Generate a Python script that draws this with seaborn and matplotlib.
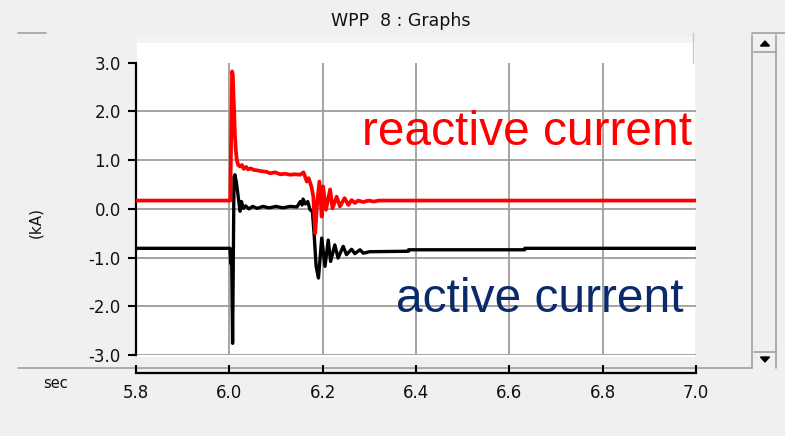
import matplotlib
matplotlib.use("Agg")
import matplotlib.pyplot as plt
import seaborn as sns
import numpy as np
import pandas as pd
from matplotlib.lines import Line2D
from matplotlib.patches import Rectangle, Polygon

# ---------------- data ----------------
t_reactive = [5.80, 6.002, 6.004, 6.006, 6.0075, 6.009, 6.010, 6.012, 6.014, 6.016,
              6.019, 6.023, 6.027, 6.031, 6.036, 6.040, 6.046, 6.052, 6.060, 6.070,
              6.080, 6.087, 6.098, 6.109, 6.120, 6.130, 6.141, 6.152,
              6.159, 6.166, 6.170, 6.176, 6.180, 6.184, 6.188, 6.193, 6.198, 6.201,
              6.207, 6.216, 6.221, 6.230, 6.237, 6.247, 6.255, 6.262, 6.269, 6.276,
              6.287, 6.298, 6.310, 6.320, 7.00]
reactive = [0.17, 0.17, 1.50, 2.82, 2.75, 2.30, 2.10, 1.50, 1.20, 1.00,
            0.90, 0.87, 0.90, 0.82, 0.86, 0.81, 0.83, 0.80, 0.79, 0.77,
            0.76, 0.73, 0.75, 0.71, 0.72, 0.70, 0.71, 0.70,
            0.75, 0.56, 0.63, 0.45, 0.25, -0.50, 0.10, 0.56, -0.16, 0.46,
            -0.02, 0.40, 0.01, 0.25, 0.05, 0.22, 0.08, 0.18, 0.12, 0.17,
            0.14, 0.17, 0.15, 0.17, 0.17]

t_active = [5.80, 6.0015, 6.003, 6.005, 6.007, 6.010, 6.012, 6.015, 6.019, 6.023,
            6.026, 6.030, 6.035, 6.042, 6.050, 6.060, 6.072, 6.085, 6.100, 6.115,
            6.130, 6.145, 6.152, 6.156, 6.158, 6.163,
            6.168, 6.173, 6.178, 6.182, 6.186, 6.191, 6.198, 6.205, 6.212, 6.217,
            6.226, 6.233, 6.244, 6.251, 6.262, 6.269, 6.280, 6.287, 6.300, 6.384,
            6.384, 6.633, 6.633, 7.00]
active = [-0.81, -0.81, -1.12, -1.00, -2.76, 0.66, 0.70, 0.55, 0.25, -0.05,
          0.15, 0.01, 0.06, 0.00, 0.05, 0.01, 0.05, 0.02, 0.05, 0.02,
          0.05, 0.04, 0.15, 0.08, 0.20, 0.10,
          0.15, -0.02, -0.05, -0.57, -1.18, -1.42, -0.60, -1.18, -0.64, -1.08,
          -0.74, -1.01, -0.77, -0.94, -0.83, -0.92, -0.84, -0.91, -0.88, -0.87,
          -0.84, -0.84, -0.81, -0.81]

y_ticks = [-3.0, -2.0, -1.0, 0.0, 1.0, 2.0, 3.0]
x_ticks = [5.8, 6.0, 6.2, 6.4, 6.6, 6.8, 7.0]
title = "WPP  8 : Graphs"
label_reactive = "reactive current"
label_active = "active current"

# ---------------- figure ----------------
sns.set_style("white")
plt.rcParams['font.family'] = ['DejaVu Sans']

W, H = 785, 436
BG = '#f0f0f0'
GRID = '#a09d98'
fig = plt.figure(figsize=(W / 100, H / 100), dpi=100, facecolor=BG)

def fx(x):
    return x / W

def fy(y):
    return 1 - y / H

# white plot panel behind axes
fig.patches.append(Rectangle((fx(137), fy(357)), fx(695) - fx(137), fy(37) - fy(357),
                             transform=fig.transFigure, facecolor='white',
                             edgecolor='none', zorder=-5))
fig.patches.append(Rectangle((fx(137), fy(43)), fx(695) - fx(137), fy(37) - fy(43),
                             transform=fig.transFigure, facecolor='#f4f4f4',
                             edgecolor='none', zorder=-4))

# frame lines of the window
def fline(x0, y0, x1, y1, color='#a0a0a0', lw=1.2):
    fig.add_artist(Line2D([fx(x0), fx(x1)], [fy(y0), fy(y1)], transform=fig.transFigure,
                          color=color, lw=lw, zorder=-3))

fline(18, 33, 46, 33)
fline(752, 33, 785, 33)
fline(18, 368, 752, 368)
fline(752, 35, 752, 368)
fline(776, 35, 776, 368)
fline(754, 52, 776, 52)
fline(754, 352, 776, 352)
fline(693, 33, 693, 63, color='#c8c8c8', lw=1.0)
# scrollbar arrows
fig.add_artist(Polygon([[fx(760.5), fy(46)], [fx(769.5), fy(46)], [fx(765), fy(41)]],
                       closed=True, transform=fig.transFigure, color='black'))
fig.add_artist(Polygon([[fx(760.5), fy(357)], [fx(769.5), fy(357)], [fx(765), fy(362)]],
                       closed=True, transform=fig.transFigure, color='black'))

fig.text(fx(401), fy(21), title, ha='center', va='center', fontsize=12.5, color='#111111')

# main axes
ax = fig.add_axes([fx(136), fy(355), fx(696) - fx(136), fy(62.7) - fy(355)])
ax.set_facecolor('none')
ax.set_zorder(2)
ax.set_xlim(5.8, 7.0)
ax.set_ylim(-3.0, 3.0)

df_r = pd.DataFrame({'t': t_reactive, 'v': reactive})
df_a = pd.DataFrame({'t': t_active, 'v': active})
sns.lineplot(data=df_r, x='t', y='v', ax=ax, color='#ff0000', linewidth=2.7,
             estimator=None, sort=False, zorder=4)
sns.lineplot(data=df_a, x='t', y='v', ax=ax, color='black', linewidth=2.4,
             estimator=None, sort=False, zorder=3)

ax.set_xlabel('')
ax.set_ylabel('')
ax.set_yticks(y_ticks)
ax.set_yticklabels([f"{v:.1f}" for v in y_ticks], fontsize=12, color='#111111')
ax.set_xticks(x_ticks[1:-1])
ax.tick_params(axis='x', which='both', bottom=False, labelbottom=False)
ax.tick_params(axis='y', direction='out', length=6, width=1.5, color='black', pad=5, left=True)

for s in ['top', 'right', 'bottom']:
    ax.spines[s].set_visible(False)
ax.spines['left'].set_color('black')
ax.spines['left'].set_linewidth(1.6)

ax.grid(True, color=GRID, linewidth=1.3, zorder=1)
ax.set_axisbelow(True)
ax.yaxis.get_gridlines()[-1].set_visible(False)

fig.text(fx(692), fy(145), label_reactive, ha='right', va='baseline', fontsize=34.5,
         color='#ff0000', family=['Liberation Sans', 'DejaVu Sans'], zorder=5)
fig.text(fx(684), fy(312), label_active, ha='right', va='baseline', fontsize=34.5,
         color='#0a2a6b', family=['Liberation Sans', 'DejaVu Sans'], zorder=5)

fig.text(fx(36), fy(222), '(kA)', rotation=90, ha='center', va='center', fontsize=11,
         color='#111111')
fig.text(fx(56), fy(383), 'sec', ha='center', va='center', fontsize=10.5, color='#111111')

# separate x axis below the panel
axx = fig.add_axes([fx(136), fy(373), fx(696) - fx(136), 0.0001])
axx.set_facecolor('none')
axx.set_xlim(5.8, 7.0)
axx.set_xticks(x_ticks)
axx.set_xticklabels([f"{v:.1f}" for v in x_ticks], fontsize=12, color='#111111')
axx.set_yticks([])
for s in ['top', 'right', 'left']:
    axx.spines[s].set_visible(False)
axx.spines['bottom'].set_color('black')
axx.spines['bottom'].set_linewidth(1.6)
axx.tick_params(axis='x', direction='in', length=6, width=1.5, color='black', pad=8, bottom=True)

fig.savefig('out.png', dpi=100, facecolor=BG)
